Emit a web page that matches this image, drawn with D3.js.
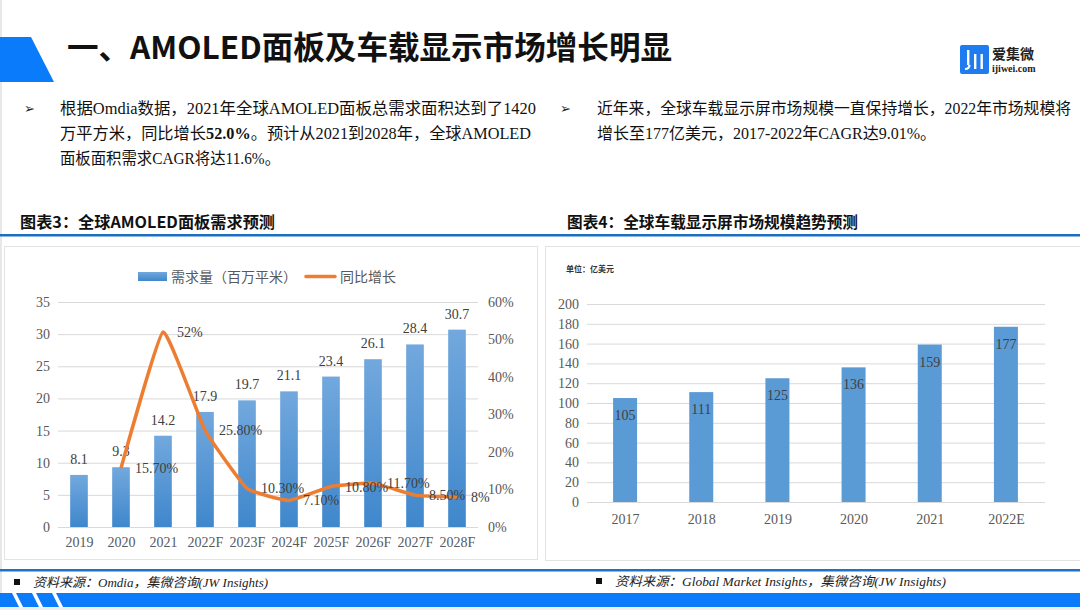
<!DOCTYPE html>
<html>
<head>
<meta charset="utf-8">
<script src="https://cdn.jsdelivr.net/npm/d3@7"></script>
<style>
  html, body { margin: 0; padding: 0; background: #fff; }
  svg { display: block; }
</style>
</head>
<body>
<div id="chart"></div>
<script>
// ── Data ──
const demandYears = ["2019", "2020", "2021", "2022F", "2023F", "2024F", "2025F", "2026F", "2027F", "2028F"];
const demandValues = [8.1, 9.3, 14.2, 17.9, 19.7, 21.1, 23.4, 26.1, 28.4, 30.7];
const growthYears = ["2020", "2021", "2022F", "2023F", "2024F", "2025F", "2026F", "2027F", "2028F"];
const growthValues = [0.157, 0.52, 0.258, 0.103, 0.071, 0.108, 0.117, 0.085, 0.08];
const growthLabels = ["15.70%", "52%", "25.80%", "10.30%", "7.10%", "10.80%", "11.70%", "8.50%", "8%"];
const demandTicks = [0, 5, 10, 15, 20, 25, 30, 35];
const growthTicks = [0, 0.1, 0.2, 0.3, 0.4, 0.5, 0.6];

const carYears = ["2017", "2018", "2019", "2020", "2021", "2022E"];
const carValues = [105, 111, 125, 136, 159, 177];
const carTicks = [0, 20, 40, 60, 80, 100, 120, 140, 160, 180, 200];

const leftText = [
  ["根据Omdia数据，2021年全球AMOLED面板总需求面积达到了1420"],
  ["万平方米，同比增长", "52.0%", "。预计从2021到2028年，全球AMOLED"],
  ["面板面积需求CAGR将达11.6%。"]
];
const leftWidths = [476, 471, 220];
const rightText = [
  "近年来，全球车载显示屏市场规模一直保持增长，2022年市场规模将",
  "增长至177亿美元，2017-2022年CAGR达9.01%。"
];
const rightWidths = [474, 339];

const BLUE = "#0a7bfa";
const SERIF = "'Liberation Serif', 'Noto Sans CJK SC', serif";
const SANS = "'Noto Sans CJK SC', 'Noto Sans', sans-serif";
const GRID = "#d9d9d9";
const TICK = "#595959";

const svg = d3.select("#chart").append("svg")
  .attr("width", 1080).attr("height", 610);

const defs = svg.append("defs");
const grad = defs.append("linearGradient").attr("id", "barGrad")
  .attr("x1", 0).attr("y1", 0).attr("x2", 0).attr("y2", 1);
grad.append("stop").attr("offset", "0%").attr("stop-color", "#72a8dd");
grad.append("stop").attr("offset", "100%").attr("stop-color", "#3f87cc");

// ── Page decoration ──
svg.append("rect").attr("x", 0).attr("y", 0).attr("width", 2).attr("height", 610).attr("fill", "#e8e8e8");
svg.append("path").attr("d", "M0,37 L31,37 L54,82 L0,82 Z").attr("fill", BLUE);

svg.append("text")
  .attr("x", 67).attr("y", 59)
  .attr("font-family", SANS).attr("font-weight", 700).attr("font-size", 31.5)
  .attr("fill", "#111")
  .attr("textLength", 605).attr("lengthAdjust", "spacingAndGlyphs")
  .text("一、AMOLED面板及车载显示市场增长明显");

// logo
const logo = svg.append("g").attr("transform", "translate(960,45)");
logo.append("rect").attr("width", 29).attr("height", 29).attr("rx", 2).attr("fill", "#1f7cf0");
[[7, 5, 15], [14, 9, 15], [20.5, 9, 15]].forEach(([x, y, h]) => {
  logo.append("rect").attr("x", x).attr("y", y).attr("width", 2.4).attr("height", h).attr("fill", "#fff");
});
logo.append("path").attr("d", "M9.4,20 Q9.4,24 5,24").attr("fill", "none").attr("stroke", "#fff").attr("stroke-width", 2.2);
logo.append("text").attr("x", 32).attr("y", 14).attr("font-family", SANS).attr("font-size", 14)
  .attr("font-weight", 700).attr("fill", "#222").text("爱集微");
logo.append("text").attr("x", 32).attr("y", 27).attr("font-family", SERIF).attr("font-size", 10)
  .attr("font-weight", 700).attr("fill", "#222").text("ijiwei.com");

// bullets
function bullet(x, y) {
  svg.append("text").attr("x", x).attr("y", y).attr("font-family", "'DejaVu Sans', sans-serif")
    .attr("font-size", 13).attr("fill", "#222").text("➢");
}
bullet(24, 113);
leftText.forEach((parts, i) => {
  const t = svg.append("text").attr("x", 60).attr("y", 114 + i * 25)
    .attr("font-family", SERIF).attr("font-size", 16).attr("fill", "#111")
    .attr("textLength", leftWidths[i]).attr("lengthAdjust", "spacingAndGlyphs");
  parts.forEach(p => {
    t.append("tspan").attr("font-weight", p === "52.0%" ? 700 : 400).text(p);
  });
});
bullet(560, 113);
rightText.forEach((line, i) => {
  svg.append("text").attr("x", 597).attr("y", 114 + i * 25)
    .attr("font-family", SERIF).attr("font-size", 16).attr("fill", "#111")
    .attr("textLength", rightWidths[i]).attr("lengthAdjust", "spacingAndGlyphs")
    .text(line);
});

// figure titles
svg.append("text").attr("x", 20).attr("y", 228).attr("font-family", SANS).attr("font-weight", 700)
  .attr("font-size", 16).attr("fill", "#111")
  .attr("textLength", 255).attr("lengthAdjust", "spacingAndGlyphs")
  .text("图表3：全球AMOLED面板需求预测");
svg.append("text").attr("x", 567).attr("y", 228).attr("font-family", SANS).attr("font-weight", 700)
  .attr("font-size", 16).attr("fill", "#111")
  .attr("textLength", 291).attr("lengthAdjust", "spacingAndGlyphs")
  .text("图表4：全球车载显示屏市场规模趋势预测");
svg.append("rect").attr("x", 0).attr("y", 234).attr("width", 1080).attr("height", 2.5).attr("fill", "#1b6fc2");

// panels
svg.append("rect").attr("x", 4.5).attr("y", 246.5).attr("width", 533).attr("height", 313)
  .attr("fill", "#fff").attr("stroke", "#e3e3e3");
svg.append("rect").attr("x", 545.5).attr("y", 246.5).attr("width", 540).attr("height", 314)
  .attr("fill", "#fff").attr("stroke", "#e3e3e3");

// ── Left chart ──
const L = svg.append("g");
const xL = d3.scalePoint().domain(demandYears).range([58, 478]).padding(0.5);
const yL = d3.scaleLinear().domain([0, 35]).range([527, 302]);
const yR = d3.scaleLinear().domain([0, 0.6]).range([527, 302]);
const barWL = xL.step() * 0.42;

L.append("g").selectAll("line").data(demandTicks).join("line")
  .attr("x1", 58).attr("x2", 478)
  .attr("y1", d => yL(d) + 0.5).attr("y2", d => yL(d) + 0.5)
  .attr("stroke", GRID).attr("stroke-width", 1);

const axL = L.append("g").attr("transform", "translate(58,0)")
  .call(d3.axisLeft(yL).tickValues(demandTicks).tickSize(0).tickPadding(8));
axL.select(".domain").remove();
axL.selectAll("text").attr("font-family", SERIF).attr("font-size", 14).attr("fill", TICK);

const axR = L.append("g").attr("transform", "translate(478,0)")
  .call(d3.axisRight(yR).tickValues(growthTicks).tickSize(0).tickPadding(10).tickFormat(d3.format(".0%")));
axR.select(".domain").remove();
axR.selectAll("text").attr("font-family", SERIF).attr("font-size", 14).attr("fill", TICK);

const axB = L.append("g").attr("transform", "translate(0,527)")
  .call(d3.axisBottom(xL).tickSize(0).tickPadding(10));
axB.select(".domain").remove();
axB.selectAll("text").attr("font-family", SERIF).attr("font-size", 14).attr("fill", TICK);

L.append("g").selectAll("rect").data(demandValues).join("rect")
  .attr("x", (d, i) => xL(demandYears[i]) - barWL / 2)
  .attr("y", d => yL(d))
  .attr("width", barWL)
  .attr("height", d => yL(0) - yL(d))
  .attr("fill", "url(#barGrad)");

L.append("g").selectAll("text").data(demandValues).join("text")
  .attr("x", (d, i) => xL(demandYears[i]))
  .attr("y", d => yL(d) - 11)
  .attr("text-anchor", "middle")
  .attr("font-family", SERIF).attr("font-size", 14).attr("fill", "#404040")
  .text(d => d);

const line = d3.line()
  .x((d, i) => xL(growthYears[i]))
  .y(d => yR(d))
  .curve(d3.curveCardinal.tension(0.65));
L.append("path").datum(growthValues)
  .attr("d", line).attr("fill", "none")
  .attr("stroke", "#ed7d31").attr("stroke-width", 3.5)
  .attr("stroke-linejoin", "round");

L.append("g").selectAll("text").data(growthValues).join("text")
  .attr("x", (d, i) => xL(growthYears[i]) + 14)
  .attr("y", d => yR(d) + 5)
  .attr("font-family", SERIF).attr("font-size", 14).attr("fill", "#404040")
  .text((d, i) => growthLabels[i]);

// legend
L.append("rect").attr("x", 138).attr("y", 272).attr("width", 29).attr("height", 9).attr("fill", "url(#barGrad)");
L.append("text").attr("x", 171).attr("y", 282).attr("font-family", SERIF).attr("font-size", 14)
  .attr("fill", TICK).text("需求量（百万平米）");
L.append("line").attr("x1", 306).attr("x2", 335).attr("y1", 276.5).attr("y2", 276.5)
  .attr("stroke", "#ed7d31").attr("stroke-width", 3.5).attr("stroke-linecap", "round");
L.append("text").attr("x", 340).attr("y", 282).attr("font-family", SERIF).attr("font-size", 14)
  .attr("fill", TICK).text("同比增长");

// ── Right chart ──
const R = svg.append("g");
const xC = d3.scalePoint().domain(carYears).range([587, 1044]).padding(0.5);
const yC = d3.scaleLinear().domain([0, 200]).range([502, 304]);
const barWC = 24;

R.append("text").attr("x", 566).attr("y", 272).attr("font-family", SANS).attr("font-weight", 700)
  .attr("font-size", 8).attr("fill", "#333").text("单位：亿美元");

R.append("g").selectAll("line").data(carTicks).join("line")
  .attr("x1", 587).attr("x2", 1045)
  .attr("y1", d => yC(d) + 0.5).attr("y2", d => yC(d) + 0.5)
  .attr("stroke", GRID).attr("stroke-width", 1);

const axC = R.append("g").attr("transform", "translate(587,0)")
  .call(d3.axisLeft(yC).tickValues(carTicks).tickSize(0).tickPadding(8));
axC.select(".domain").remove();
axC.selectAll("text").attr("font-family", SERIF).attr("font-size", 14).attr("fill", TICK);

const axCB = R.append("g").attr("transform", "translate(0,502)")
  .call(d3.axisBottom(xC).tickSize(0).tickPadding(12));
axCB.select(".domain").remove();
axCB.selectAll("text").attr("font-family", SERIF).attr("font-size", 14).attr("fill", TICK);

R.append("g").selectAll("rect").data(carValues).join("rect")
  .attr("x", (d, i) => xC(carYears[i]) - barWC / 2)
  .attr("y", d => yC(d))
  .attr("width", barWC)
  .attr("height", d => yC(0) - yC(d))
  .attr("fill", "#5b9bd5");

R.append("g").selectAll("text").data(carValues).join("text")
  .attr("x", (d, i) => xC(carYears[i]))
  .attr("y", d => yC(d) + 22)
  .attr("text-anchor", "middle")
  .attr("font-family", SERIF).attr("font-size", 14).attr("fill", "#404040")
  .text(d => d);

// ── Footer ──
svg.append("rect").attr("x", 0).attr("y", 569).attr("width", 1080).attr("height", 2.5).attr("fill", "#1b73c9");
svg.append("rect").attr("x", 14).attr("y", 579).attr("width", 6).attr("height", 6).attr("fill", "#111");
svg.append("text").attr("x", 33).attr("y", 587).attr("font-family", SERIF).attr("font-style", "italic")
  .attr("font-size", 13).attr("fill", "#222").text("资料来源：Omdia，集微咨询(JW Insights)");
svg.append("rect").attr("x", 596).attr("y", 578).attr("width", 6).attr("height", 6).attr("fill", "#111");
svg.append("text").attr("x", 615).attr("y", 586).attr("font-family", SERIF).attr("font-style", "italic")
  .attr("font-size", 13).attr("fill", "#222")
  .attr("textLength", 331).attr("lengthAdjust", "spacingAndGlyphs")
  .text("资料来源：Global Market Insights，集微咨询(JW Insights)");

svg.append("rect").attr("x", 0).attr("y", 593).attr("width", 1080).attr("height", 14).attr("fill", BLUE);
svg.append("rect").attr("x", 0).attr("y", 607).attr("width", 1080).attr("height", 3).attr("fill", "#eef0f3");
[12, 32, 52].forEach(x => {
  svg.append("path").attr("d", `M${x},593 L${x + 4},593 L${x + 11},607 L${x + 7},607 Z`).attr("fill", "#fff");
});
</script>
</body>
</html>
